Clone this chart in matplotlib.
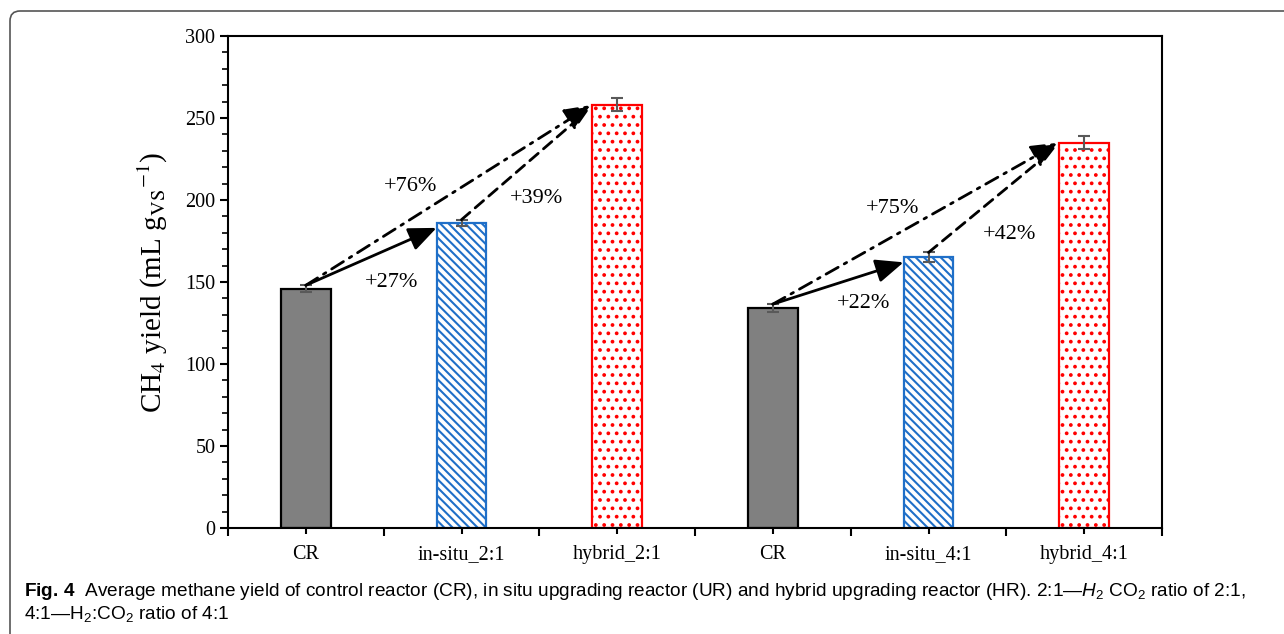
import matplotlib.pyplot as plt
from matplotlib.patches import FancyBboxPatch
from matplotlib import font_manager
import numpy as np

names = {f.name for f in font_manager.fontManager.ttflist}
sans = 'Liberation Sans Narrow' if 'Liberation Sans Narrow' in names else 'Liberation Sans'

plt.rcParams['mathtext.fontset'] = 'custom'
plt.rcParams['mathtext.rm'] = sans
plt.rcParams['mathtext.it'] = sans + ':italic'
plt.rcParams['mathtext.bf'] = sans + ':bold'
plt.rcParams['hatch.linewidth'] = 1.5

categories = ['CR', 'in-situ_2:1', 'hybrid_2:1', 'CR', 'in-situ_4:1', 'hybrid_4:1']
yields = [146, 186, 258, 134, 165, 235]
errors = [2, 2, 4, 2.5, 3, 4]
# (from, to, label) for the increase arrows
increases = [(0, 1, '+27%'), (0, 2, '+76%'), (1, 2, '+39%'),
             (3, 4, '+22%'), (3, 5, '+75%'), (4, 5, '+42%')]
label_pos = [(0.55, 150), (0.67, 208), (1.48, 201),
             (3.58, 137), (3.77, 195), (4.52, 179)]

serif = 'Liberation Serif'
w = 0.32
head = '-|>,head_length=0.85,head_width=0.36'

fig = plt.figure(figsize=(12.84, 6.34), dpi=100)
ax = fig.add_axes([228/1284, 1-528/634, (1162-228)/1284, (528-36)/634])

x = np.arange(len(categories))
styles = [
    dict(color='#808080', edgecolor='black', hatch=None),
    dict(color='white', edgecolor='#1f6fc8', hatch='\\\\\\\\'),
    dict(color='white', edgecolor='#ff0000', hatch='..'),
]
for i in x:
    st = styles[i % 3]
    ax.bar(i, yields[i], width=w, color=st['color'], edgecolor=st['edgecolor'],
           hatch=st['hatch'], linewidth=1.6, zorder=2)
ax.errorbar(x, yields, yerr=errors, fmt='none', ecolor='#595959',
            elinewidth=1.5, capsize=4, capthick=1.5, zorder=3)

# arrows
for (a, b, lab), (tx, ty) in zip(increases, label_pos):
    start = (a, yields[a] + errors[a])
    if b - a == 2:
        ax.annotate('', xy=(b - w/2, yields[b]), xytext=start,
                    arrowprops=dict(arrowstyle=head, color='black', lw=2,
                                    ls=(0, (5, 2.5, 1, 2.5)),
                                    mutation_scale=20, shrinkA=0, shrinkB=0), zorder=4)
    elif a % 3 == 0:
        ax.annotate('', xy=(b - w/2, yields[b] - 3), xytext=start,
                    arrowprops=dict(arrowstyle=head, color='black', lw=2, ls='-',
                                    mutation_scale=20, shrinkA=0, shrinkB=0), zorder=4)
    else:
        ax.annotate('', xy=(b - w/2 - 0.06, yields[b] - 6), xytext=start,
                    arrowprops=dict(arrowstyle='-', color='black', lw=2,
                                    ls=(0, (4, 2.5)), shrinkA=0, shrinkB=0), zorder=4)
    ax.text(tx, ty, lab, fontsize=16, family=serif, ha='center', va='center')

ax.set_xlim(-0.5, len(categories) - 0.5)
ax.set_ylim(0, 300)
ax.set_xticks(x)
ax.set_xticklabels(categories, family=serif, fontsize=14.5)
ax.set_xticks(np.arange(-0.5, len(categories), 1), minor=True)
ax.tick_params(axis='x', which='major', direction='out', length=4, width=1.5, pad=8)
ax.tick_params(axis='x', which='minor', direction='out', length=6, width=1.5)
ax.set_yticks(np.arange(0, 301, 50))
ax.set_yticks(np.arange(0, 301, 10), minor=True)
ax.set_yticklabels([str(v) for v in range(0, 301, 50)], family=serif, fontsize=14.5)
ax.tick_params(axis='y', which='major', direction='out', length=6, width=1.5, pad=3)
ax.tick_params(axis='y', which='minor', direction='out', length=4, width=1.2)
for s in ax.spines.values():
    s.set_linewidth(1.5)

ax.set_ylabel(r'CH$_4$ yield (mL g$_{\mathrm{VS}}$$^{\mathrm{-1}}$)', family=serif,
              fontsize=21, math_fontfamily='stix', labelpad=11)

# frame around figure and caption
frame = FancyBboxPatch((0.10, -0.5), 13.0, 6.34 - 0.11 + 0.5,
                       boxstyle='round,pad=0,rounding_size=0.1',
                       transform=fig.dpi_scale_trans, facecolor='none',
                       edgecolor='#555555', lw=1.2)
fig.patches.append(frame)

cap1 = (r'$\mathbf{Fig.\,4}$  Average methane yield of control reactor (CR), in situ upgrading '
        r'reactor (UR) and hybrid upgrading reactor (HR). $\mathit{2}$:$\mathit{1—H_2}$ CO$_2$ ratio of 2:1,')
cap2 = r'4:1—H$_2$:CO$_2$ ratio of 4:1'
t1 = fig.text(24/1284, 1-591/634, cap1, family=sans, fontsize=13.5, va='center')
t2 = fig.text(24/1284, 1-614/634, cap2, family=sans, fontsize=13.5, va='center')

# fit caption line width to the reference
fig.canvas.draw()
wpx = t1.get_window_extent().width
size = 13.5 * 1223 / wpx
t1.set_fontsize(size)
t2.set_fontsize(size)

fig.savefig('out.png', dpi=100)
